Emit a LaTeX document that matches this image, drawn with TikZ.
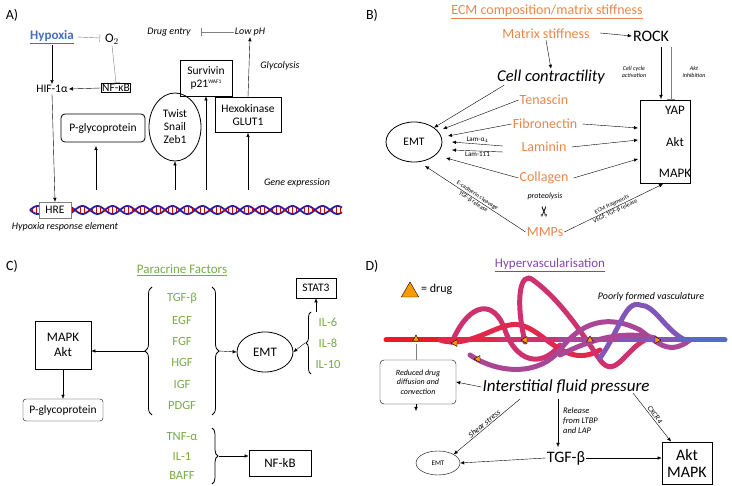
\documentclass[tikz,border=0pt]{standalone}
\usepackage{fontspec}
\setmainfont{Carlito}
\newfontfamily\djv{DejaVu Sans}
\usetikzlibrary{arrows.meta,shapes.geometric,decorations.pathreplacing}
\definecolor{ora}{RGB}{232,135,75}
\definecolor{grn}{RGB}{120,170,70}
\definecolor{pur}{RGB}{130,70,170}
\definecolor{hblue}{RGB}{70,110,190}
\definecolor{dna}{RGB}{40,30,170}
\definecolor{v0}{RGB}{235,25,35}
\definecolor{v1}{RGB}{225,40,75}
\definecolor{v2}{RGB}{205,50,110}
\definecolor{v3}{RGB}{170,70,150}
\definecolor{v4}{RGB}{130,85,185}
\definecolor{v5}{RGB}{85,105,200}
\begin{document}
\begin{tikzpicture}[x=1pt,y=-1pt,
  lab/.style={font=\fontsize{11.5}{13}\selectfont,inner sep=1pt},
  it/.style={font=\fontsize{10}{11}\selectfont\itshape,inner sep=1pt},
  tiny/.style={font=\fontsize{7}{8}\selectfont\itshape,inner sep=1pt,align=center},
  sm/.style={font=\fontsize{7}{8}\selectfont,inner sep=1pt},
  box/.style={draw,thick,lab,align=center},
  ar/.style={-{Latex[length=4pt,width=3.5pt]},thin},
  inh/.style={-{Bar[width=8pt]},thin,gray},
  oran/.style={font=\fontsize{14}{15}\selectfont,text=ora,inner sep=1pt},
  grl/.style={font=\fontsize{12.5}{14}\selectfont,text=grn,inner sep=1pt},
  panel/.style={font=\fontsize{14}{15}\selectfont,inner sep=0pt},
  vess/.style={line width=5pt,line cap=round}]
\useasboundingbox (0,0) rectangle (732,486);
% ---------------- A
\node[panel] (pA) at (12,15) {A)};
\node[font=\fontsize{13}{14}\selectfont\bfseries,text=hblue,inner sep=1pt] (hyp) at (52,37) {\underline{Hypoxia}};
\node[font=\fontsize{13}{14}\selectfont,inner sep=1pt] (o2) at (112,39) {O$_2$};
\draw[inh] (hyp.east) ++(2,0) -- (100,38);
\node[box] (nfkb) at (116,88) {NF-κB};
\draw[inh] (o2.south) -- (nfkb.north);
\node[lab] (hif) at (52,89) {HIF-1α};
\draw[ar] (nfkb.west) -- (hif.east);
\draw[ar] (hyp.south) -- (hif.north);
% DNA
\draw[dna,line width=1.8pt] plot[domain=30:342,samples=240] (\x,{210+4*sin((\x-30)*12)});
\draw[dna,line width=1.8pt] plot[domain=30:342,samples=240] (\x,{210-4*sin((\x-30)*12)});
\foreach \xx in {32,36,...,342}{\draw[red!80!black,line width=0.8pt] (\xx,{210+3*sin((\xx-30)*12)}) -- (\xx,{210-3*sin((\xx-30)*12)});}
\node[draw=gray,fill=white,lab,minimum width=32pt,minimum height=16pt] (hre) at (55,210) {HRE};
\draw[ar] (hif.south) -- (hre.north);
\node[it] (hretxt) at (65,227) {Hypoxia response element};
\node[box,rounded corners=4pt,minimum width=84pt,minimum height=28pt] (pgp) at (103,128) {P-glycoprotein};
\coordinate (g1) at (96,190); \draw[ar] (g1) -- (96,146);
\node[draw,thick,ellipse,lab,align=center,minimum width=52pt,minimum height=68pt,inner sep=0pt] (twist) at (175,127) {Twist\\Snail\\Zeb1};
\coordinate (g2) at (175,190); \draw[ar] (g2) -- (twist.south);
\node[box,minimum width=52pt,minimum height=36pt] (surv) at (206,78) {Survivin\\p21{\fontsize{5.5}{6}\selectfont\raisebox{4pt}{WAF1}}};
\coordinate (g3) at (206,190); \draw[ar] (g3) -- (surv.south);
\node[box,minimum width=66pt,minimum height=35pt] (hexo) at (248,115) {Hexokinase\\GLUT1};
\coordinate (g4) at (248,190); \draw[ar] (g4) -- (hexo.south);
\node[it] (drug) at (169,32) {Drug entry};
\node[it] (ph) at (250,32) {Low pH};
\draw[ar] (hexo.north) -- (ph.south);
\draw[inh] (ph.west) -- (201,32);
\node[it] (gly) at (280,66) {Glycolysis};
\node[it] (gexp) at (297,183) {Gene expression};
% ---------------- B
\node[panel] (pB) at (372,15) {B)};
\node[oran] (ecm) at (547,12) {\underline{ECM composition/matrix stiffness}};
\node[oran] (ms) at (546,34) {Matrix stiffness};
\node[font=\fontsize{16}{17}\selectfont,inner sep=1pt] (rock) at (651,36) {ROCK};
\draw[ar] (600,33) -- (rock.west);
\node[font=\fontsize{16.5}{17}\selectfont\itshape,inner sep=1pt] (cc) at (551,77) {Cell contractility};
\draw[ar] (ms.south) -- (cc.north);
\node[oran] (ten) at (544,100) {Tenascin};
\node[oran] (fib) at (545,124) {Fibronectin};
\node[oran] (lam) at (544,147) {Laminin};
\node[oran] (col) at (544,178) {Collagen};
\node[oran] (mmp) at (545,232) {MMPs};
\node[draw,thick,ellipse,lab,minimum width=56pt,minimum height=40pt] (emtb) at (414,142) {EMT};
\draw[thick] (640,100) rectangle (690,183);
\node[font=\fontsize{13}{14}\selectfont] (yap) at (675,110) {YAP};
\node[font=\fontsize{13}{14}\selectfont] (akt) at (675,142) {Akt};
\node[font=\fontsize{13}{14}\selectfont] (mapk) at (675,173) {MAPK};
\coordinate (bx1) at (661,99); \coordinate (bx2) at (671,99);
\draw[ar] (661,47) -- (bx1);
\draw[inh] (671,47) -- (bx2);
\node[tiny,font=\fontsize{6}{7}\selectfont\itshape] (cca) at (634,72) {Cell cycle\\activation};
\node[tiny,font=\fontsize{6}{7}\selectfont\itshape] (akti) at (694,72) {Akt\\inhibition};
\draw[ar] (cc.south west) ++(8,0) -- (emtb.north east);
\draw[ar] (ten.west) -- (443,129);
\draw[ar] (fib.west) -- (448,136);
\draw[ar] (503,146) -- node[above,sm] {Lam-α$_4$} (452,142);
\draw[ar] (503,152) -- node[below,sm] {Lam-111} (452,150);
\draw[ar] (col.west) -- (446,158);
\draw[ar] (mmp.west) -- node[sloped,above,sm,font=\fontsize{6}{7}\selectfont] {E-cadherin cleavage} node[sloped,below,sm,font=\fontsize{6}{7}\selectfont] {TGF-β release} (425,166);
\draw[ar] (fib.east) ++(4,0) -- (638,128);
\draw[ar] (lam.east) ++(4,0) -- (638,140);
\draw[ar] (col.east) ++(4,0) -- (638,159);
\draw[ar] (mmp.east) -- node[sloped,above,sm,font=\fontsize{6}{7}\selectfont] {ECM fragments} node[sloped,below,sm,font=\fontsize{6}{7}\selectfont] {VEGF, TGF-β release} (663,184);
\node[it,font=\fontsize{8}{9}\selectfont\itshape] (prot) at (545,196) {proteolysis};
\node[font=\djv\fontsize{14}{14}\selectfont,rotate=90,inner sep=0pt] (sci) at (545,212) {✂};
% ---------------- C
\node[panel] (pC) at (12,266) {C)};
\node[grl,font=\fontsize{13}{14}\selectfont] (para) at (182,270) {\underline{Paracrine Factors}};
\foreach \t/\yy in {TGF-β/298,EGF/320,FGF/341,HGF/362,IGF/384,PDGF/405}{\node[grl] at (182,\yy) {\t};}
\draw[decorate,decoration={brace,amplitude=7pt},thick] (152,415) -- (152,287);
\draw[decorate,decoration={brace,amplitude=7pt},thick] (212,287) -- (212,415);
\node[box,font=\fontsize{13}{15}\selectfont,minimum width=56pt,minimum height=48pt] (mapkc) at (63,345) {MAPK\\Akt};
\coordinate (bl) at (145,351); \draw[ar] (bl) -- (mapkc.east |- bl);
\node[draw,thin,rounded corners=3pt,lab,minimum width=80pt,minimum height=22pt] (pgpc) at (63,410) {P-glycoprotein};
\draw[ar] (mapkc.south) -- (pgpc.north);
\node[draw,thick,ellipse,lab,font=\fontsize{13}{14}\selectfont,minimum width=56pt,minimum height=40pt] (emtc) at (265,352) {EMT};
\coordinate (br) at (219,351); \draw[ar] (br) -- (emtc.west);
\node[box,minimum width=40pt,minimum height=20pt] (stat) at (316,288) {STAT3};
\foreach \t/\yy in {IL-6/322,IL-8/343,IL-10/364}{\node[grl] at (328,\yy) {\t};}
\draw[decorate,decoration={brace,amplitude=5pt},thick] (311,374) -- (311,312);
\coordinate (ilb) at (305,343); \draw[ar] (ilb) -- (emtc.east);
\coordinate (ilt) at (316,312); \draw[ar] (ilt) -- (stat.south);
\foreach \t/\yy in {TNF-α/437,IL-1/456,BAFF/475}{\node[grl] at (182,\yy) {\t};}
\draw[decorate,decoration={brace,amplitude=6pt},thick] (212,428) -- (212,484);
\node[box,font=\fontsize{13}{14}\selectfont,minimum width=62pt,minimum height=26pt] (nfkbc) at (280,463) {NF-kB};
\coordinate (nb) at (219,456); \draw[ar] (nb) -- (nfkbc.west |- nb);
% ---------------- D
\node[panel] (pD) at (372,266) {D)};
\node[font=\fontsize{13}{14}\selectfont,text=pur] (hyv) at (550,265) {\underline{Hypervascularisation}};
\node[regular polygon,regular polygon sides=3,draw,fill=orange!80!yellow,minimum size=20pt,inner sep=0pt] (legt) at (410,292) {};
\node[lab,font=\fontsize{12}{13}\selectfont,anchor=west] (legd) at (420,289) {= drug};
\node[it] (poor) at (651,297) {Poorly formed vasculature};
% vessels
\draw[vess,v2] (452,342) .. controls (470,300) and (495,300) .. (505,330) .. controls (515,360) and (540,370) .. (560,345);
\draw[vess,v1] (440,340) .. controls (470,350) and (500,320) .. (520,325) .. controls (545,330) and (565,370) .. (600,350);
\draw[vess,v2] (525,342) .. controls (515,300) and (520,270) .. (533,280) .. controls (560,300) and (580,330) .. (600,360) .. controls (615,380) and (625,350) .. (645,340);
\draw[vess,v3] (470,355) .. controls (500,375) and (540,375) .. (560,350) .. controls (575,330) and (600,310) .. (640,330) .. controls (660,345) and (670,355) .. (690,340);
\draw[vess,v4] (600,358) .. controls (620,330) and (625,300) .. (640,305) .. controls (655,305) and (665,330) .. (685,340);
\draw[vess,v3] (560,355) .. controls (590,340) and (620,330) .. (655,338);
\foreach \a/\b/\c in {386/440/v0,440/500/v1,500/560/v2,560/620/v3,620/680/v4,680/725/v5}{
  \draw[vess,color=\c] (\a,340) -- (\b,340);}
\foreach \px/\py/\r in {416/339/0,455/343/90,478/359/90,525/340/90,590/340/0,657/340/-90}{
  \node[regular polygon,regular polygon sides=3,draw,fill=orange!80!yellow,minimum size=8pt,inner sep=0pt,rotate=\r] at (\px,\py) {};}
\node[draw,rounded corners=4pt,tiny,font=\fontsize{8}{9.5}\selectfont\itshape,minimum width=76pt,minimum height=44pt] (red) at (418,382) {Reduced drug\\diffusion and\\convection};
\coordinate (dt) at (416,344); \draw[gray,thin] (dt) -- (red.north -| dt);
\coordinate (rb) at (416,411); \draw[ar] (red.south -| rb) -- (rb);
\node[font=\fontsize{17}{18}\selectfont\itshape,inner sep=1pt] (ifp) at (566,387) {Interstitial fluid pressure};
\draw[ar] (ifp.west) -- (red.east);
\node[font=\fontsize{16}{17}\selectfont,inner sep=1pt] (tgf) at (566,458) {TGF-β};
\coordinate (it1) at (558,399); \draw[ar] (it1) -- (558,447);
\node[it,font=\fontsize{8.5}{10}\selectfont\itshape,align=left,anchor=west] (rel) at (562,421) {Release\\from LTBP\\and LAP};
\node[draw,thin,ellipse,font=\fontsize{7}{8}\selectfont,minimum width=44pt,minimum height=24pt] (emtd) at (438,463) {EMT};
\draw[ar] (tgf.west) -- (emtd.east);
\node[box,font=\fontsize{16}{17}\selectfont,minimum width=50pt,minimum height=42pt,inner sep=1pt] (aktd) at (687,463) {Akt\\MAPK};
\draw[ar] (tgf.east) -- (aktd.west |- tgf);
\coordinate (c1) at (633,393); \draw[ar] (c1) -- node[sloped,above,font=\fontsize{7.5}{8}\selectfont\itshape,inner sep=1pt] {CXCR4} (aktd.north -| 671,0);
\coordinate (s1) at (520,399); \draw[ar] (s1) -- node[sloped,above,font=\fontsize{8}{9}\selectfont\itshape,inner sep=1pt] {Shear stress} (emtd.north east);
\end{tikzpicture}
\end{document}
